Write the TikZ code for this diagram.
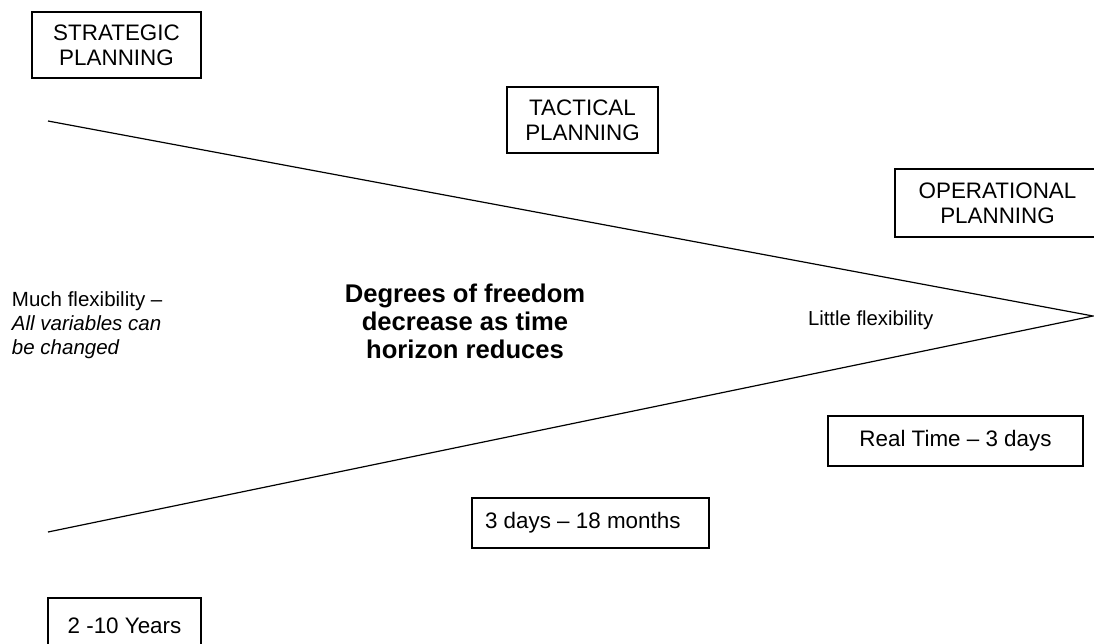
\documentclass[tikz,border=0pt]{standalone}
\usepackage{fontspec}
\setmainfont{Liberation Sans}
\begin{document}
\begin{tikzpicture}[x=1pt,y=-1pt,
  every node/.style={inner sep=0pt, outer sep=0pt, text=black},
  planbox/.style={draw=black, line width=1.2pt, align=center,
    font=\fontsize{22.4}{25}\selectfont},
  sidetext/.style={align=left, anchor=north west,
    font=\fontsize{20.5}{24}\selectfont},
  boldtext/.style={align=center, font=\fontsize{25.6}{28}\selectfont\bfseries},
  wedge/.style={draw=black, line width=1.2pt}]
\useasboundingbox (0,0) rectangle (1094,643);
\clip (0,0) rectangle (1094,643);

% planning levels
\node[planbox, minimum width=169, minimum height=66] (strat) at (116.5,45) {STRATEGIC\\PLANNING};
\node[planbox, minimum width=151, minimum height=66] (tact) at (582.5,120) {TACTICAL\\PLANNING};
\node[planbox, minimum width=205, minimum height=68] (oper) at (997.5,203) {OPERATIONAL\\PLANNING};

% the narrowing wedge
\coordinate (tl) at (48,121);
\coordinate (bl) at (48,532);
\coordinate (apex) at (1093,316);
\draw[wedge] (tl) -- (apex) -- (bl);

% flexibility labels
\node[sidetext] (much) at (12,292) {Much flexibility –\\\itshape All variables can\\\itshape be changed};
\node[boldtext] (deg) at (465,321) {Degrees of freedom\\decrease as time\\horizon reduces};
\node[anchor=west, font=\fontsize{20.3}{24}\selectfont] (little) at (808,320) {Little flexibility};

% time horizons
\node[planbox, minimum width=255, minimum height=50] (rt) at (955.5,441) {Real Time – 3 days};
\node[planbox, minimum width=237, minimum height=50] (mid) at (590.5,523) {};
\node[anchor=west, font=\fontsize{22.4}{25}\selectfont] at (mid.west) [xshift=13pt] {3 days – 18 months};
\node[planbox, minimum width=153, minimum height=56] (long) at (124.5,626) {2 -10 Years};
\end{tikzpicture}
\end{document}
